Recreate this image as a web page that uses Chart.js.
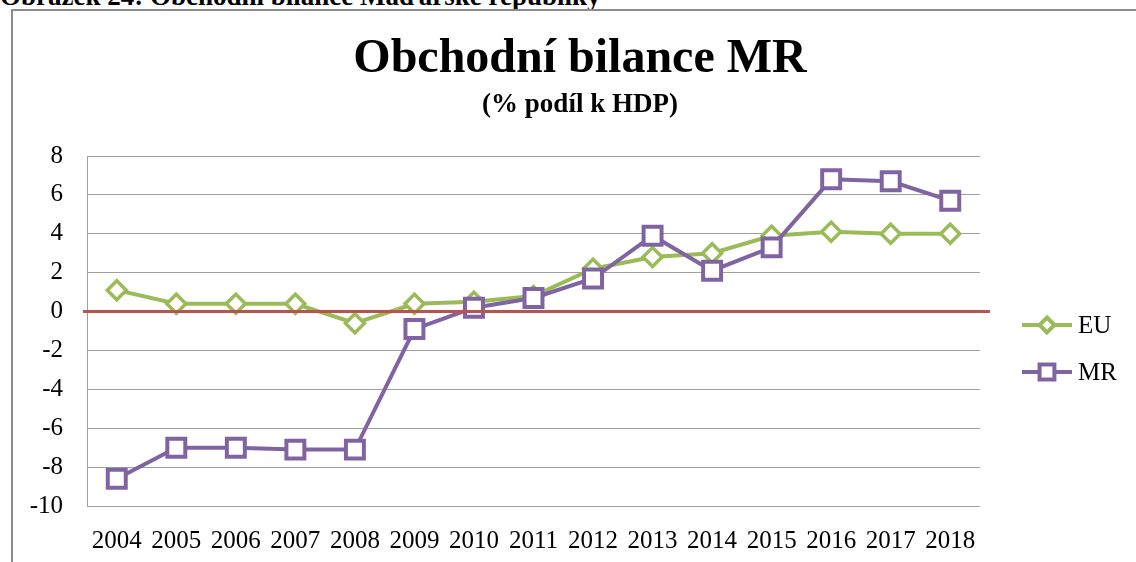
<!DOCTYPE html>
<html><head><meta charset="utf-8">
<script src="https://cdn.jsdelivr.net/npm/chart.js@4.4.0/dist/chart.umd.min.js"></script>
<style>
html,body{margin:0;padding:0;background:#fff;overflow:hidden;}
#wrap{position:relative;width:1136px;height:562px;overflow:hidden;}
#caption{position:absolute;left:0;top:-17px;font:bold 27px "Liberation Serif";line-height:1;white-space:nowrap;color:#000;}
#frame{position:absolute;left:11px;top:9px;right:0;bottom:0;border-left:2px solid #8c8c8c;border-top:2px solid #8c8c8c;}
canvas{position:absolute;left:0;top:0;}
</style></head><body>
<div id="wrap">
<div id="caption">Obrázek 24: Obchodní bilance Maďarské republiky</div>
<div id="frame"></div>
<canvas id="c" width="1136" height="562" style="width:1136px;height:562px"></canvas>
</div>
<script>
const years = ['2004','2005','2006','2007','2008','2009','2010','2011','2012','2013','2014','2015','2016','2017','2018'];
const euValues = [1.1,0.4,0.4,0.4,-0.6,0.4,0.5,0.8,2.2,2.8,3.0,3.9,4.1,4.0,4.0];
const mrValues = [-8.6,-7.0,-7.0,-7.1,-7.1,-0.9,0.2,0.7,1.7,3.9,2.1,3.3,6.8,6.7,5.7];
const seriesLabels = ['EU','MR'];
const yMin = -10, yMax = 8, yStep = 2;
const titleText = 'Obchodní bilance MR';
const subtitleText = '(% podíl k HDP)';

const GREEN = '#9BBB59', PURPLE = '#8064A2', RED = '#C0504D';
const SERIF = '"Liberation Serif", "Times New Roman", serif';

const zeroLine = {
  id: 'zeroLine',
  afterDatasetsDraw(chart) {
    const {ctx, chartArea, scales} = chart;
    const y = scales.y.getPixelForValue(0);
    ctx.save();
    ctx.strokeStyle = RED;
    ctx.lineWidth = 3;
    ctx.beginPath();
    ctx.moveTo(chartArea.left - 4, y);
    ctx.lineTo(chartArea.right + 10, y);
    ctx.stroke();
    ctx.restore();
  }
};

function drawMarker(ctx, style, x, y, r, color, bw) {
  ctx.save();
  ctx.fillStyle = '#fff';
  ctx.strokeStyle = color;
  ctx.lineWidth = bw;
  ctx.beginPath();
  if (style === 'rectRot') {
    ctx.moveTo(x, y - r); ctx.lineTo(x + r, y); ctx.lineTo(x, y + r); ctx.lineTo(x - r, y); ctx.closePath();
  } else {
    const s = r * Math.SQRT1_2;
    ctx.rect(x - s, y - s, 2 * s, 2 * s);
  }
  ctx.fill(); ctx.stroke();
  ctx.restore();
}

const customLegend = {
  id: 'customLegend',
  afterDraw(chart) {
    const {ctx, chartArea} = chart;
    const x0 = chartArea.right + 42;
    const yBase = chartArea.top + 169;
    chart.data.datasets.forEach((ds, i) => {
      const y = yBase + i * 47;
      ctx.save();
      ctx.strokeStyle = ds.borderColor;
      ctx.lineWidth = 4;
      ctx.beginPath(); ctx.moveTo(x0, y); ctx.lineTo(x0 + 50, y); ctx.stroke();
      drawMarker(ctx, ds.pointStyle, x0 + 25, y, ds.pointStyle === 'rectRot' ? 7.5 : 10.5, ds.borderColor, 4);
      ctx.fillStyle = '#000';
      ctx.font = '25px ' + SERIF;
      ctx.textAlign = 'left';
      ctx.textBaseline = 'middle';
      ctx.fillText(ds.label, x0 + 56, y + 1);
      ctx.restore();
    });
  }
};

new Chart(document.getElementById('c'), {
  type: 'line',
  data: {
    labels: years,
    datasets: [
      {label: seriesLabels[0], data: euValues, borderColor: GREEN, backgroundColor: '#fff', borderWidth: 4,
       pointStyle: 'rectRot', pointRadius: 9.5, pointBorderWidth: 3.5, pointBackgroundColor: '#fff', pointBorderColor: GREEN,
       tension: 0, order: 1},
      {label: seriesLabels[1], data: mrValues, borderColor: PURPLE, backgroundColor: '#fff', borderWidth: 4,
       pointStyle: 'rect', pointRadius: 12.7, pointBorderWidth: 4, pointBackgroundColor: '#fff', pointBorderColor: PURPLE,
       tension: 0, order: 0}
    ]
  },
  options: {
    responsive: false,
    animation: false,
    layout: {padding: {left: 24, top: 0, right: 0, bottom: 0}},
    plugins: {
      legend: {display: false},
      tooltip: {enabled: false},
      title: {display: true, text: titleText, color: '#000',
        font: {family: SERIF, size: 48, weight: 'bold', lineHeight: 1.2}, padding: {top: 31, bottom: 0}},
      subtitle: {display: true, text: subtitleText, color: '#000',
        font: {family: SERIF, size: 27, weight: 'bold', lineHeight: 1.2}, padding: {top: 0, bottom: 35}}
    },
    scales: {
      x: {
        offset: true,
        grid: {display: false},
        border: {display: false},
        ticks: {color: '#000', font: {family: SERIF, size: 25}, padding: 12, maxRotation: 0, autoSkip: false},
        afterFit(s) { s.height = 56; }
      },
      y: {
        min: yMin, max: yMax,
        grid: {color: '#a0a0a0', lineWidth: 1, drawTicks: false},
        border: {display: true, color: '#a0a0a0', width: 1},
        ticks: {stepSize: yStep, color: '#000', font: {family: SERIF, size: 25}, padding: 24},
        afterFit(s) { s.width = 63; }
      },
      y2: {
        position: 'right',
        display: true,
        grid: {display: false, drawTicks: false},
        border: {display: false},
        ticks: {display: false},
        afterFit(s) { s.width = 156; }
      }
    }
  },
  plugins: [zeroLine, customLegend]
});
</script>
</body></html>
